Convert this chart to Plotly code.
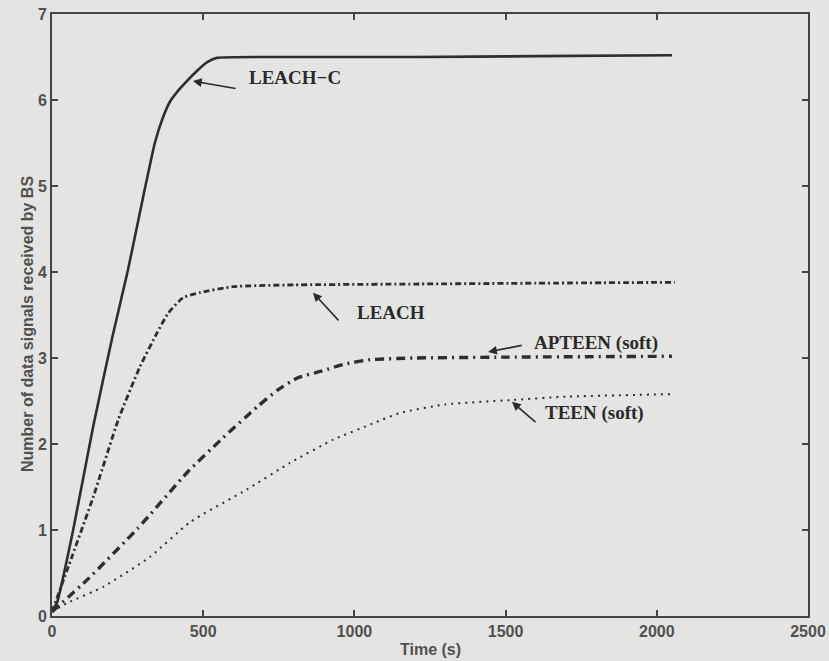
import plotly.graph_objects as go

# ---- data ----
leachc_t = [0, 17, 70, 136, 200, 251, 300, 340, 365, 390, 420, 446, 480, 513, 545, 800, 1200, 1600, 2050]
leachc_y = [0.05, 0.16, 1.0, 2.2, 3.25, 4.02, 4.85, 5.5, 5.78, 5.98, 6.12, 6.22, 6.34, 6.44, 6.49, 6.5, 6.5, 6.51, 6.52]

leach_t = [0, 66, 136, 220, 291, 347, 384, 433, 489, 600, 800, 1200, 1600, 2060]
leach_y = [0.05, 0.69, 1.38, 2.29, 2.90, 3.29, 3.52, 3.70, 3.76, 3.83, 3.85, 3.86, 3.87, 3.88]

apteen_t = [0, 116, 284, 450, 565, 681, 747, 813, 893, 969, 1051, 1200, 1500, 2050]
apteen_y = [0.05, 0.42, 1.02, 1.68, 2.07, 2.44, 2.63, 2.77, 2.85, 2.93, 2.98, 3.0, 3.01, 3.02]

teen_t = [0, 50, 170, 325, 456, 644, 787, 930, 1062, 1150, 1300, 1514, 1700, 2050]
teen_y = [0.05, 0.15, 0.34, 0.69, 1.09, 1.47, 1.78, 2.05, 2.24, 2.36, 2.46, 2.51, 2.55, 2.58]

x_ticks = [0, 500, 1000, 1500, 2000, 2500]
y_ticks = [0, 1, 2, 3, 4, 5, 6, 7]

LINE = "#2e2e2e"
BG = "#e4e4e2"

fig = go.Figure()
fig.add_trace(go.Scatter(x=leachc_t, y=leachc_y, mode="lines", name="LEACH-C",
                         line=dict(color=LINE, width=2.6, shape="spline", smoothing=0.4)))
fig.add_trace(go.Scatter(x=leach_t, y=leach_y, mode="lines", name="LEACH",
                         line=dict(color=LINE, width=2.8, dash="6px,3px,2px,3px",
                                   shape="spline", smoothing=0.5)))
fig.add_trace(go.Scatter(x=apteen_t, y=apteen_y, mode="lines", name="APTEEN (soft)",
                         line=dict(color=LINE, width=3.4, dash="9px,5px,2px,5px",
                                   shape="spline", smoothing=0.5)))
fig.add_trace(go.Scatter(x=teen_t, y=teen_y, mode="lines", name="TEEN (soft)",
                         line=dict(color=LINE, width=2.0, dash="2px,5px",
                                   shape="spline", smoothing=0.5)))

ann_font = dict(family="Liberation Serif, Times New Roman, serif", size=19, color="#2a2a2a")
labels = [
    # text, text_x, text_y, tip_x, tip_y, tail_x, tail_y
    ("<b>LEACH\u2212C</b>", 645, 6.26, 466, 6.22, 612, 6.13),
    ("<b>LEACH</b>", 1002, 3.53, 863, 3.76, 952, 3.42),
    ("<b>APTEEN (soft)</b>", 1587, 3.17, 1442, 3.07, 1558, 3.15),
    ("<b>TEEN (soft)</b>", 1624, 2.36, 1521, 2.49, 1604, 2.24),
]
for txt, tx, ty, hx, hy, ax, ay in labels:
    fig.add_annotation(x=tx, y=ty, xref="x", yref="y", text=txt, showarrow=False,
                       xanchor="left", yanchor="middle", font=ann_font)
    fig.add_annotation(x=hx, y=hy, ax=ax, ay=ay, xref="x", yref="y", axref="x", ayref="y",
                       text="", showarrow=True, arrowhead=2, arrowsize=1.1,
                       arrowwidth=1.6, arrowcolor="#2a2a2a")

sans = "Liberation Sans, Arial, sans-serif"
tick_font = dict(family=sans, size=16, color="#505050")

# axis titles
fig.add_annotation(text="<b>Time (s)</b>", xref="paper", yref="paper", x=0.5, y=0,
                   xanchor="center", yanchor="middle", yshift=-33, showarrow=False,
                   font=dict(family=sans, size=16, color="#505050"))
fig.add_annotation(text="<b>Number of data signals received by BS</b>", xref="paper", yref="paper",
                   x=0, y=0.5, xanchor="center", yanchor="middle", xshift=-25, yshift=-9,
                   textangle=-90, showarrow=False,
                   font=dict(family=sans, size=16, color="#505050"))

fig.update_layout(
    width=829, height=661,
    margin=dict(l=52, r=21, t=14, b=45),
    paper_bgcolor=BG, plot_bgcolor=BG,
    showlegend=False,
    xaxis=dict(range=[0, 2500], tickvals=x_ticks, ticktext=[f"<b>{v}</b>" for v in x_ticks],
               ticks="inside", ticklen=6, tickwidth=1.5, tickcolor="#444",
               showline=True, linecolor="#444", linewidth=2, mirror="ticks",
               showgrid=False, zeroline=False, tickfont=tick_font, automargin=False),
    yaxis=dict(range=[0, 7], tickvals=y_ticks, ticktext=[f"<b>{v}</b>" for v in y_ticks],
               ticks="inside", ticklen=6, tickwidth=1.5, tickcolor="#444",
               showline=True, linecolor="#444", linewidth=2, mirror="ticks",
               showgrid=False, zeroline=False, tickfont=tick_font, automargin=False),
)

fig.write_html(
    "out.html",
    config={"displayModeBar": False},
    post_script="document.body.style.margin='0';document.body.style.overflow='hidden';"
                "document.body.style.background='" + BG + "';",
)
